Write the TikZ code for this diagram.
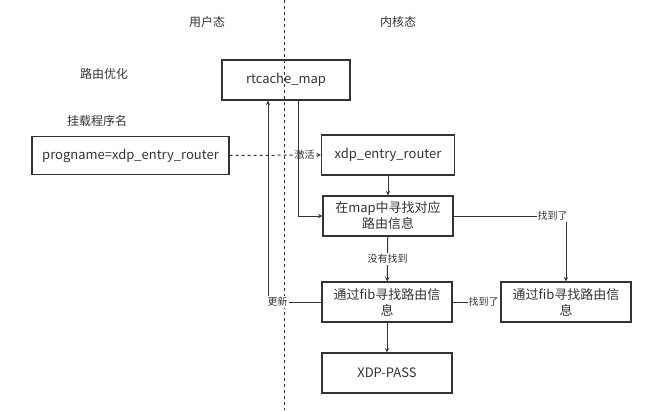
\documentclass[tikz,border=0pt]{standalone}
\usepackage{fontspec}
\setmainfont{Noto Sans CJK SC}
\usetikzlibrary{arrows}

\definecolor{linegray}{HTML}{333333}

\begin{document}
\begin{tikzpicture}[x=1pt,y=-1pt,>=stealth,
  every node/.style={text=linegray},
  procbox/.style={draw=linegray,line width=1.1pt,minimum width=130pt,minimum height=40pt,
    align=center,inner sep=2pt,font=\fontsize{13}{16}\selectfont},
  conn/.style={linegray,line width=1pt},
  edgelabel/.style={fill=white,inner sep=1pt,font=\fontsize{10}{11}\selectfont},
  headlabel/.style={font=\fontsize{12}{13}\selectfont}]
\useasboundingbox (0,0) rectangle (666,410);
% The border between user and kernel space
\draw[dashed,linegray] (284,0) -- (284,410);
\node[headlabel] (user) at (207,22) {用户态};
\node[headlabel] (kernel) at (398,22) {内核态};
\node[headlabel] (optim) at (104,74) {路由优化};
\node[headlabel] (attach) at (97,121) {挂载程序名};

% The boxes
\node[procbox,minimum width=128pt] (rtcache) at (286,80) {rtcache\_map};
\node[procbox,minimum width=197pt,minimum height=38pt] (progname) at (130.5,155.5) {progname=xdp\_entry\_router};
\node[procbox,minimum width=133pt] (entry) at (388,155) {xdp\_entry\_router};
\node[procbox] (lookup) at (388,216) {在map中寻找对应\\路由信息};
\node[procbox] (fib) at (387,302) {通过fib寻找路由信\\息};
\node[procbox] (found) at (566,302) {通过fib寻找路由信\\息};
\node[procbox] (pass) at (387,373) {XDP-PASS};

% The connectors
\draw[->,dashed,conn] (progname.east) -- (entry.west)
  node[edgelabel,pos=0.82] {激活};
\draw[->,conn] (entry) -- (lookup);
\draw[->,conn] ([xshift=12pt]rtcache.south) |- (lookup.west);
\draw[->,conn] (lookup) -- (fib)
  node[edgelabel,pos=0.5] {没有找到};
\draw[->,conn] (lookup.east) -| (found.north)
  node[edgelabel,pos=0.44] {找到了};
\draw[->,conn] (fib) -- (found)
  node[edgelabel,pos=0.65] {找到了};
\draw[->,conn] (fib.west) -| ([xshift=-18pt]rtcache.south)
  node[edgelabel,pos=0.41] {更新};
\draw[->,conn] (fib) -- (pass);

\end{tikzpicture}
\end{document}
